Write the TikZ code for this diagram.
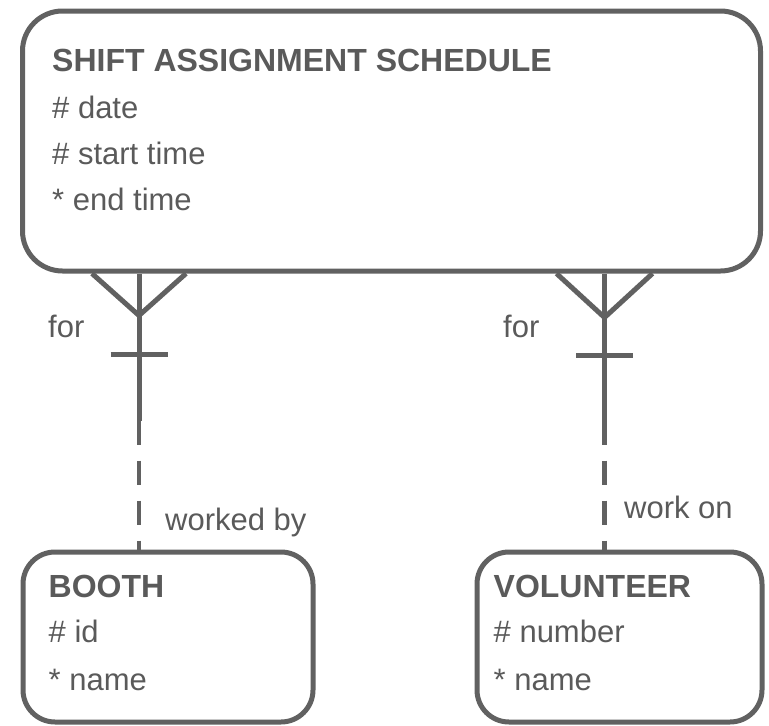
\documentclass[tikz,border=0pt]{standalone}
\usepackage{fontspec}
\setmainfont{Liberation Sans}
\definecolor{ergray}{HTML}{616161}
\definecolor{ertext}{HTML}{5A5A5A}
\usetikzlibrary{positioning}

\begin{document}
\begin{tikzpicture}
  [x=1pt, y=-1pt,
   every node/.style={font=\fontsize{31pt}{36pt}\selectfont, text=ertext, inner sep=0pt},
   entity/.style={draw=ergray, line width=5pt, rounded corners=40pt, minimum width=738pt, minimum height=260pt},
   small/.style={entity, rounded corners=32pt, minimum height=170pt},
   attr/.style={anchor=base west},
   head/.style={attr, font=\fontsize{32pt}{36pt}\selectfont\bfseries},
   rel/.style={draw=ergray, line width=5pt},
   opt/.style={rel, line width=4.5pt, dash pattern=on 24pt off 16pt}]

  \useasboundingbox (0,0) rectangle (769,726);

  %Draw the three entities
  \node[entity] (sched) at (391.5,141) {};
  \node[small, minimum width=290pt] (booth) at (168,637) {};
  \node[small, minimum width=285pt] (vol) at (619.5,637) {};

  %Entity texts
  \node[head] (schedT) at ([shift={(32,63)}]sched.north west) {SHIFT ASSIGNMENT SCHEDULE};
  \node[attr] (schedA) at ([shift={(0,47)}]schedT.base west) {\# date};
  \node[attr] (schedB) at ([shift={(0,46)}]schedA.base west) {\# start time};
  \node[attr] (schedC) at ([shift={(0,46)}]schedB.base west) {* end time};

  \node[head] (boothT) at ([shift={(28,48)}]booth.north west) {BOOTH};
  \node[attr] (boothA) at ([shift={(0,45)}]boothT.base west) {\# id};
  \node[attr] (boothB) at ([shift={(0,48)}]boothA.base west) {* name};

  \node[head] (volT) at ([shift={(19,48)}]vol.north west) {VOLUNTEER};
  \node[attr] (volA) at ([shift={(0,45)}]volT.base west) {\# number};
  \node[attr] (volB) at ([shift={(0,48)}]volA.base west) {* name};

  %Relationship anchors
  \path (sched.south west) ++(119,0) coordinate (l0) ++(0,42) coordinate (lfoot)
        ++(0,39) coordinate (lbar) ++(0,66) coordinate (lmid);
  \path (lmid |- booth.north) coordinate (l1);
  \path (sched.south west) ++(584.5,0) coordinate (r0) ++(0,44) coordinate (rfoot)
        ++(0,38) coordinate (rbar) ++(0,65) coordinate (rmid);
  \path (rmid |- vol.north) coordinate (r1);

  %Crow's feet, bars and lines
  \foreach \c/\w in {l/47, r/48} {
    \draw[rel] (\c0) -- (\c mid);
    \draw[rel] ([shift={(-\w,0)}]\c0) -- (\c foot) -- ([shift={(\w,0)}]\c0);
    \draw[rel] ([shift={(-28.5,0)}]\c bar) -- ([shift={(28.5,0)}]\c bar);
    \draw[opt] (\c mid) -- (\c1);
  }

  %Relationship labels
  \node[attr] (lfor) at (48,337) {for};
  \node[attr] (rfor) at (503,337) {for};
  \node[attr] (lby) at (165,530) {worked by};
  \node[attr] (ron) at (624,518) {work on};
\end{tikzpicture}
\end{document}
